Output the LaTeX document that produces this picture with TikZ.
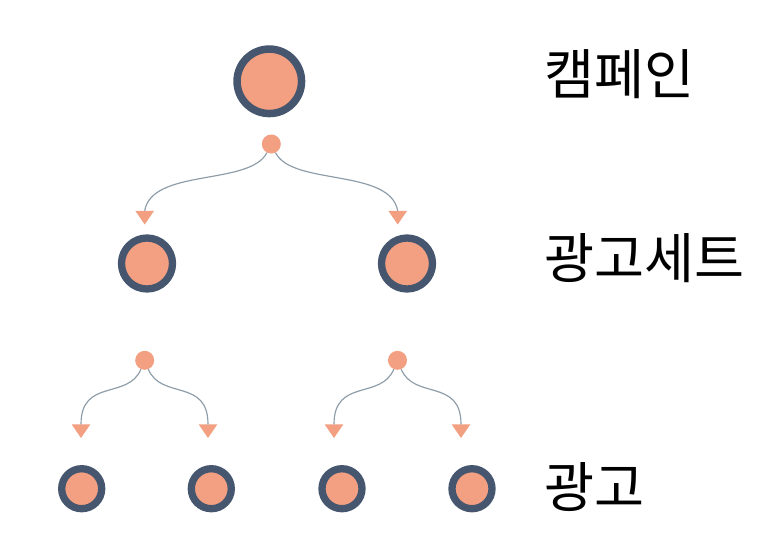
\documentclass[tikz,border=0pt]{standalone}
\usepackage{fontspec}
\usetikzlibrary{shapes.geometric}
\newfontfamily\cjk{Noto Sans CJK KR}
\definecolor{ringc}{HTML}{45566E}
\definecolor{fillc}{HTML}{F39F82}
\definecolor{linkc}{HTML}{8C9CA8}
\tikzset{
 px/.style={x=1pt,y=-1pt},
 big/.style={circle,draw=ringc,fill=fillc,line width=7.5pt,minimum size=64.5pt,inner sep=0pt},
 mid/.style={circle,draw=ringc,fill=fillc,line width=7.3pt,minimum size=51pt,inner sep=0pt},
 small/.style={circle,draw=ringc,fill=fillc,line width=7.3pt,minimum size=40pt,inner sep=0pt},
 dot/.style={circle,fill=fillc,minimum size=19pt,inner sep=0pt},
 tip/.style={isosceles triangle,isosceles triangle stretches,shape border rotate=-90,fill=fillc,minimum height=13.5pt,minimum width=18.5pt,inner sep=0pt,anchor=apex},
 link/.style={draw=linkc,line width=1.15pt},
 lab/.style={font=\cjk\fontsize{54.4pt}{58pt}\selectfont,anchor=west,inner sep=0pt,text=black}
}
\begin{document}
\begin{tikzpicture}[px]
\useasboundingbox (0,0) rectangle (773,552);
\fill[white] (0,0) rectangle (773,552);
\node[big] (c) at (269.3,81.3) {};
\node[dot] (d0) at (271.3,144) {};
\node[mid] (s1) at (147,263.5) {};
\node[mid] (s2) at (407,263.5) {};
\node[dot] (d1) at (144.7,360.3) {};
\node[dot] (d2) at (397.5,360.3) {};
\node[small] (a1) at (81.7,488.7) {};
\node[small] (a2) at (211.3,488.7) {};
\node[small] (a3) at (342,488.7) {};
\node[small] (a4) at (472,488.7) {};
\node[tip] (t1) at (144.7,225) {};
\node[tip] (t2) at (397.7,225) {};
\node[tip] (t3) at (81,438.5) {};
\node[tip] (t4) at (208,438.5) {};
\node[tip] (t5) at (334,438.5) {};
\node[tip] (t6) at (461,438.5) {};
\draw[link] (d0) .. controls (250,186) and (152,168) .. (t1.north);
\draw[link] (d0) .. controls (292,186) and (390,168) .. (t2.north);
\draw[link] (d1) .. controls (128,400) and (81,378) .. (t3.north);
\draw[link] (d1) .. controls (161,400) and (208,378) .. (t4.north);
\draw[link] (d2) .. controls (381,400) and (334,378) .. (t5.north);
\draw[link] (d2) .. controls (414,400) and (461,378) .. (t6.north);
\node[lab] (l1) at (544,74.5) {캠페인};
\node[lab] (l2) at (544,258) {광고세트};
\node[lab] (l3) at (544,487) {광고};
\end{tikzpicture}
\end{document}
